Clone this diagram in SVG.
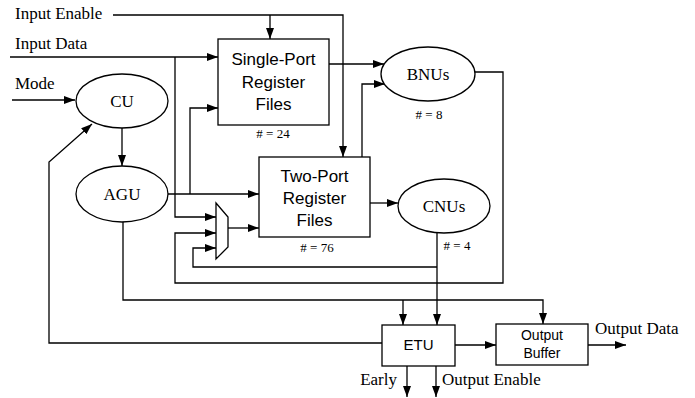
<svg xmlns="http://www.w3.org/2000/svg" width="695" height="398" viewBox="0 0 695 398">
<defs>
<marker id="ah" markerUnits="userSpaceOnUse" markerWidth="12" markerHeight="10" refX="11" refY="4" orient="auto">
<path d="M0,0 L11,4 L0,8 Z" fill="#000"/>
</marker>
<style>
.ln{fill:none;stroke:#000;stroke-width:1.3}
.ar{marker-end:url(#ah)}
.bx{fill:#fff;stroke:#000;stroke-width:1.3}
.sf{font-family:"Liberation Serif","Times New Roman",serif;font-size:17px;fill:#000}
.ss{font-family:"Liberation Sans",Arial,sans-serif;fill:#000}
.nm{font-family:"Liberation Serif","Times New Roman",serif;font-size:13px;fill:#000}
</style>
</defs>
<rect width="695" height="398" fill="#fff"/>

<g id="labels">
<text class="sf" x="15" y="19">Input Enable</text>
<text class="sf" x="15" y="49">Input Data</text>
<text class="sf" x="15" y="89">Mode</text>
<text class="sf" x="595" y="334">Output Data</text>
<text class="sf" x="397" y="385" text-anchor="end">Early</text>
<text class="sf" x="442" y="385">Output Enable</text>
</g>

<g id="connectors">
<path class="ln ar" d="M113,15 H343 V157"/>
<path class="ln ar" d="M270,15 V39"/>
<path class="ln ar" d="M10,57 H218"/>
<path class="ln ar" d="M175,57 V217 H216"/>
<path class="ln ar" d="M12,100 H75"/>
<path class="ln ar" d="M122,127 V166"/>
<path class="ln ar" d="M168,194 H259"/>
<path class="ln ar" d="M190,194 V108 H218"/>
<path class="ln ar" d="M329,64 H384"/>
<path class="ln ar" d="M362,157 V84 H385"/>
<path class="ln ar" d="M370,203 H398"/>
<path class="ln ar" d="M228,228 H259"/>
<path class="ln ar" d="M475,72 H503 V283 H175 V233 H216"/>
<path class="ln ar" d="M437,233 V325"/>
<path class="ln ar" d="M437,267 H193 V248 H216"/>
<path class="ln ar" d="M123,221 V300 H543 V324"/>
<path class="ln ar" d="M403,300 V325"/>
<path class="ln ar" d="M382,343 H49 V162 L92,124"/>
<path class="ln ar" d="M455,345 H496"/>
<path class="ln ar" d="M588,345 H626"/>
<path class="ln ar" d="M407,366 V397"/>
<path class="ln ar" d="M436,366 V397"/>
</g>

<g id="single-port">
<rect class="bx" x="218" y="39" width="111" height="86"/>
<text class="ss" font-size="17" x="273.5" y="65" text-anchor="middle">Single-Port</text>
<text class="ss" font-size="17" x="273.5" y="88" text-anchor="middle">Register</text>
<text class="ss" font-size="17" x="273.5" y="110" text-anchor="middle">Files</text>
<text class="nm" x="273" y="138" text-anchor="middle"># = 24</text>
</g>

<g id="two-port">
<rect class="bx" x="259" y="157" width="111" height="80"/>
<text class="ss" font-size="17" x="314.5" y="182" text-anchor="middle">Two-Port</text>
<text class="ss" font-size="17" x="314.5" y="204" text-anchor="middle">Register</text>
<text class="ss" font-size="17" x="314.5" y="226" text-anchor="middle">Files</text>
<text class="nm" x="317" y="252" text-anchor="middle"># = 76</text>
</g>

<g id="mux">
<polygon class="bx" points="216,203 228,217 228,247 216,259"/>
</g>

<g id="cu">
<ellipse class="bx" cx="122" cy="101" rx="46" ry="27"/>
<text class="sf" x="122" y="107" text-anchor="middle">CU</text>
</g>

<g id="agu">
<ellipse class="bx" cx="122" cy="194" rx="46" ry="28"/>
<text class="sf" x="122" y="200" text-anchor="middle">AGU</text>
</g>

<g id="bnus">
<ellipse class="bx" cx="428" cy="74" rx="47" ry="27"/>
<text class="sf" x="428" y="80" text-anchor="middle">BNUs</text>
<text class="nm" x="429" y="119" text-anchor="middle"># = 8</text>
</g>

<g id="cnus">
<ellipse class="bx" cx="444" cy="206" rx="46" ry="27"/>
<text class="sf" x="444" y="212" text-anchor="middle">CNUs</text>
<text class="nm" x="457" y="250" text-anchor="middle"># = 4</text>
</g>

<g id="etu">
<rect class="bx" x="382" y="325" width="73" height="41"/>
<text class="ss" font-size="15" x="418.5" y="350" text-anchor="middle">ETU</text>
</g>

<g id="output-buffer">
<rect class="bx" x="496" y="324" width="92" height="41"/>
<text class="ss" font-size="14" x="542" y="340" text-anchor="middle">Output</text>
<text class="ss" font-size="14" x="542" y="358" text-anchor="middle">Buffer</text>
</g>
</svg>
